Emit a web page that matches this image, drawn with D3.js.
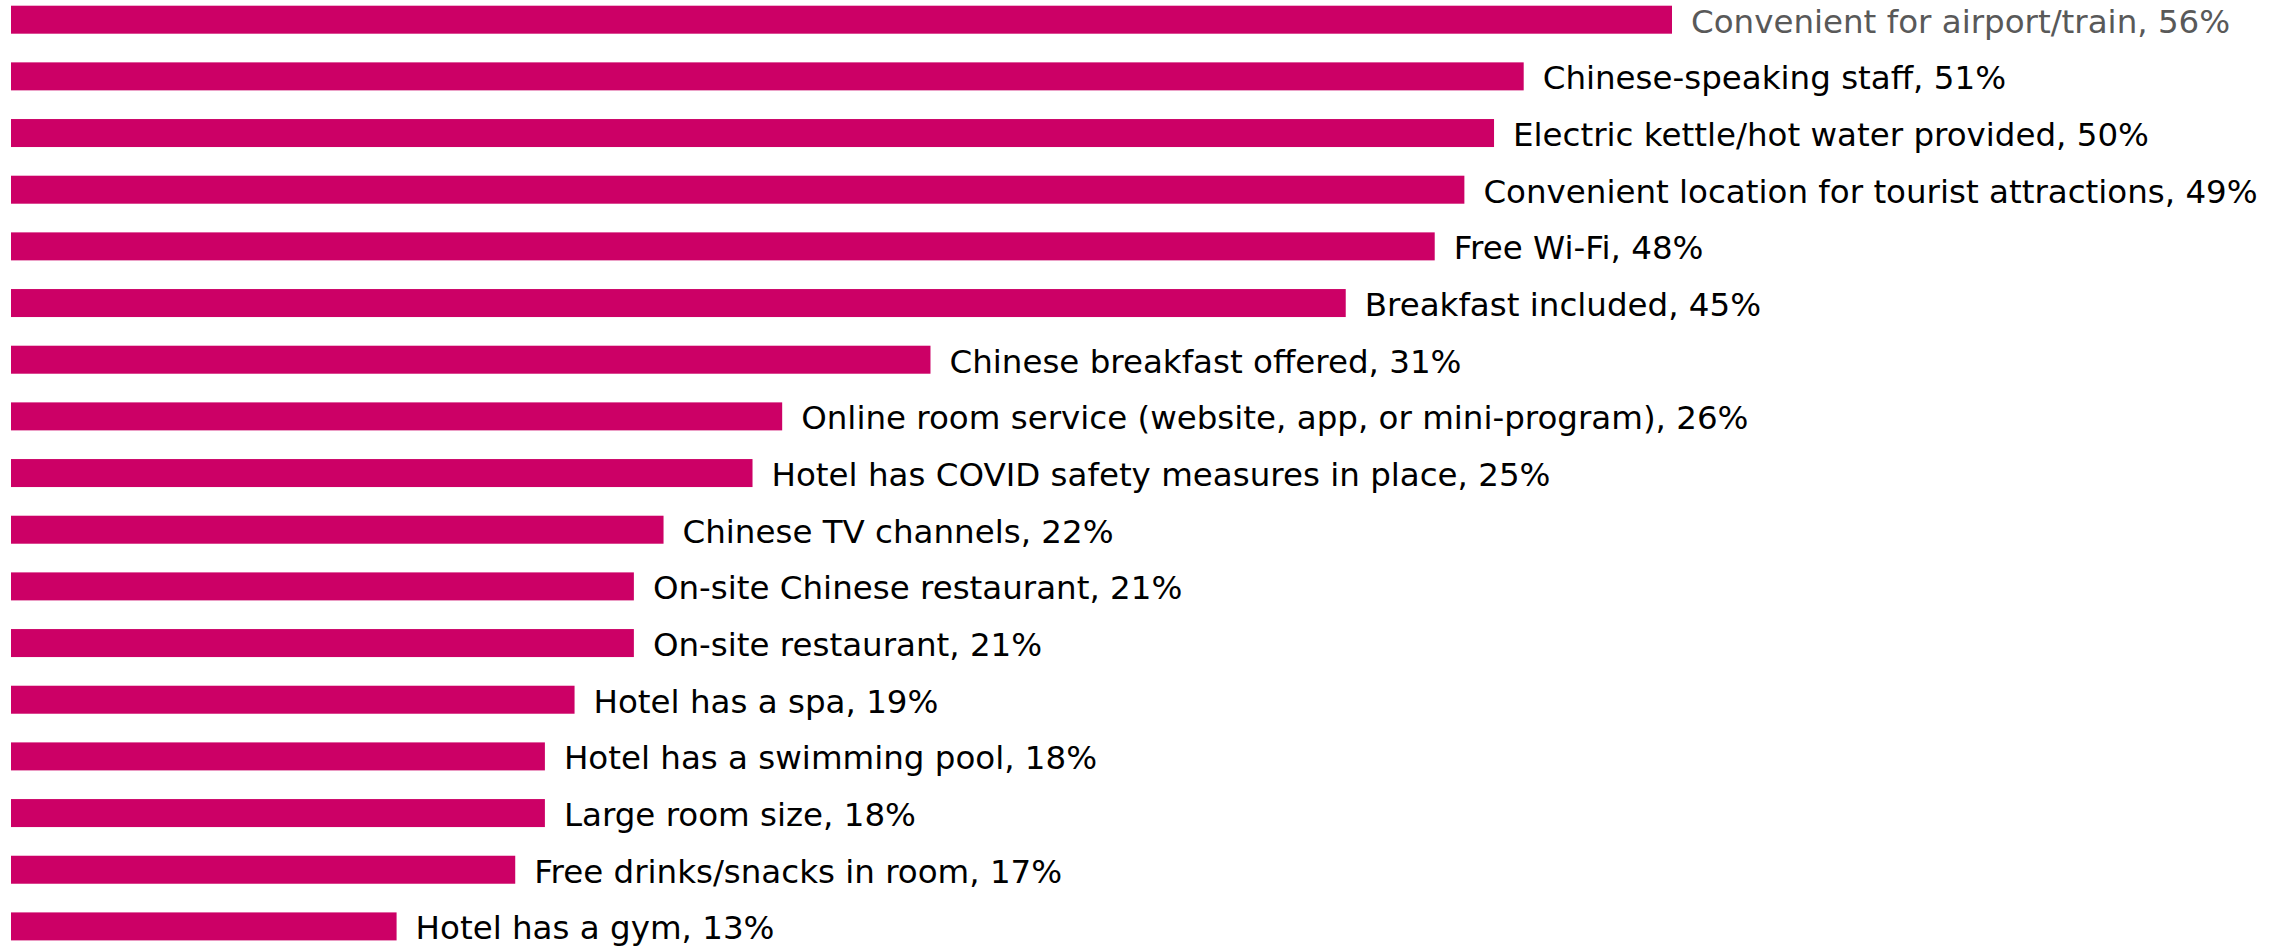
<!DOCTYPE html>
<html>
<head>
<meta charset="utf-8">
<script src="https://cdn.jsdelivr.net/npm/d3@7"></script>
<style>
  body { margin: 0; background: #fff; }
</style>
</head>
<body>
<script>
var features = [
  "Convenient for airport/train",
  "Chinese-speaking staff",
  "Electric kettle/hot water provided",
  "Convenient location for tourist attractions",
  "Free Wi-Fi",
  "Breakfast included",
  "Chinese breakfast offered",
  "Online room service (website, app, or mini-program)",
  "Hotel has COVID safety measures in place",
  "Chinese TV channels",
  "On-site Chinese restaurant",
  "On-site restaurant",
  "Hotel has a spa",
  "Hotel has a swimming pool",
  "Large room size",
  "Free drinks/snacks in room",
  "Hotel has a gym"
];
var shares = [56, 51, 50, 49, 48, 45, 31, 26, 25, 22, 21, 21, 19, 18, 18, 17, 13];

var rows = features.map((f, i) => ({feature: f, share: shares[i]}));

var xScale = d3.scaleLinear().domain([0, 56]).range([11, 1672]);
var yScale = d3.scaleBand().domain(features).range([5.7, 940.4]).paddingInner(0.506).paddingOuter(0);

var svg = d3.select("body")
  .append("svg")
  .attr("width", 2284)
  .attr("height", 951);

svg.selectAll("rect")
  .data(rows)
  .enter()
  .append("rect")
  .attr("x", xScale(0))
  .attr("y", d => yScale(d.feature))
  .attr("width", d => xScale(d.share) - xScale(0))
  .attr("height", yScale.bandwidth())
  .style("fill", "#cc0066");

// labels sit just right of each bar
svg.selectAll("text.lbl")
  .data(rows)
  .enter()
  .append("text")
  .attr("class", "lbl")
  .attr("x", d => xScale(d.share) + 19)
  .attr("y", d => yScale(d.feature) + yScale.bandwidth() / 2 + 13)
  .style("font-family", "'DejaVu Sans', sans-serif")
  .style("font-size", "32.5px")
  .style("fill", (d, i) => i == 0 ? "#595959" : "#000")
  .text(d => d.feature + ", " + d.share + "%");
</script>
</body>
</html>
